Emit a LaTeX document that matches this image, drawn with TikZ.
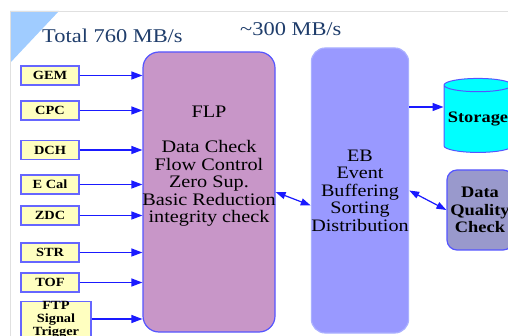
\documentclass[tikz,border=0pt]{standalone}
\usepackage{fontspec}
\setmainfont{Liberation Serif}[FakeStretch=1.15]
\usetikzlibrary{arrows.meta,shapes.geometric}
\definecolor{titleblue}{HTML}{1F3D6B}
\definecolor{linkblue}{HTML}{1A1AFF}
\definecolor{srcfill}{HTML}{FFFFC0}
\definecolor{srcline}{HTML}{6666FF}
\definecolor{flpfill}{HTML}{C896C8}
\definecolor{flpline}{HTML}{5555FF}
\definecolor{ebfill}{HTML}{9999FF}
\definecolor{ebline}{HTML}{AAB0FF}
\definecolor{dqcfill}{HTML}{9999CC}
\definecolor{stofill}{HTML}{00FFFF}
\definecolor{cornerblue}{HTML}{A0CCFF}
\begin{document}
\begin{tikzpicture}[x=1pt,y=-1pt,
    src/.style={rectangle,draw=srcline,fill=srcfill,line width=1.2pt,
        minimum width=58pt,minimum height=19pt,inner sep=0pt,align=center,
        font=\fontsize{12.5}{13}\selectfont\bfseries},
    feed/.style={-{Triangle[length=11pt,width=8pt]},draw=linkblue,fill=linkblue,line width=1.2pt},
    both/.style={{Triangle[length=10pt,width=7pt]}-{Triangle[length=10pt,width=7pt]},
        draw=linkblue,fill=linkblue,line width=1.2pt}]
    \useasboundingbox (0,0) rectangle (508,336);
    \clip (0,0) rectangle (508,336);
    % slide frame
    \fill[cornerblue] (10,11) -- (59,11) -- (10,63) -- cycle;
    \draw[black!12,line width=0.8pt] (10,336) -- (10,11) -- (508,11);
    \node at (42,42.5) [anchor=base west,inner sep=0pt,text=titleblue,font=\fontsize{19.5}{19}\selectfont] (rate1) {Total 760 MB/s};
    \node at (240,35.5) [anchor=base west,inner sep=0pt,text=titleblue,font=\fontsize{19.5}{19}\selectfont] (rate2) {\textasciitilde 300 MB/s};
    % detectors
    \node at (50,75.5) [src] (gem) {GEM};
    \node at (50,110.5) [src] (cpc) {CPC};
    \node at (50,150) [src] (dch) {DCH};
    \node at (50,184.5) [src] (ecal) {E Cal};
    \node at (50,215.5) [src] (zdc) {ZDC};
    \node at (50,252.5) [src] (str) {STR};
    \node at (50,282.5) [src] (tof) {TOF};
    \node at (56,320) [src,minimum width=70pt,minimum height=36pt] (ftp) {FTP\\Signal\\Trigger};
    % processing
    \node at (209,192) [rectangle,rounded corners=16pt,draw=flpline,fill=flpfill,line width=1.2pt,
        minimum width=132pt,minimum height=280pt] (flp) {};
    \node at (209,166.5) [inner sep=0pt,align=center,font=\fontsize{17.6}{17.5}\selectfont] (flptext)
        {FLP\\[17.5pt]Data Check\\Flow Control\\Zero Sup.\\Basic Reduction\\integrity check};
    \node at (360,190.5) [rectangle,rounded corners=14pt,draw=ebline,fill=ebfill,line width=1.2pt,
        minimum width=94pt,minimum height=285pt,inner sep=0pt,align=center,
        font=\fontsize{17.5}{17.5}\selectfont] (eb) {EB\\Event\\Buffering\\Sorting\\Distribution};
    \node at (478,119) [cylinder,shape border rotate=90,aspect=0.22,draw=flpline,fill=stofill,line width=1pt,
        minimum width=68pt,minimum height=74pt,inner sep=0pt,font=\fontsize{16}{16}\selectfont\bfseries] (sto) {Storage};
    \node at (480,210) [rectangle,rounded corners=10pt,draw=flpline,fill=dqcfill,line width=1.2pt,
        minimum width=66pt,minimum height=80pt,inner sep=0pt,align=center,
        font=\fontsize{16}{17.5}\selectfont\bfseries] (dqc) {Data\\Quality\\Check};
    % links
    \foreach \d in {gem,cpc,dch,ecal,zdc,str,tof}
        \draw[feed] (\d.east) -- (\d.east -| flp.west);
    \draw[feed] ([yshift=1pt]ftp.east) -- ([yshift=1pt]ftp.east -| flp.west);
    \draw[both] (flp.east) -- ([yshift=-15pt]eb.west);
    \draw[feed] ([yshift=12pt]sto.west -| eb.east) -- ([yshift=12pt]sto.west);
    \draw[both] (eb.east) -- (dqc.west);
\end{tikzpicture}
\end{document}
